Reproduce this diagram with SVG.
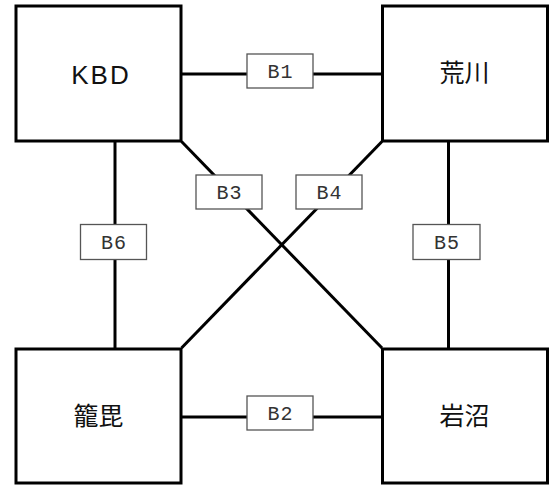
<svg xmlns="http://www.w3.org/2000/svg" width="550" height="487" viewBox="0 0 550 487">
<style>
.node rect{fill:#fff;stroke:#000;stroke-width:3}
.node text{font-family:"Liberation Sans","Noto Sans CJK JP",sans-serif;font-size:26px;fill:#111;text-anchor:middle}
.node text.cjk{font-family:"Noto Sans CJK JP",sans-serif;font-size:25px}
.edges line{stroke:#000;stroke-width:3}
.lbl rect{fill:#fff;stroke:#555;stroke-width:1.3}
.lbl text{font-family:"Liberation Mono","Courier New",monospace;font-size:20px;fill:#333;text-anchor:middle;letter-spacing:1px}
</style>
<rect width="550" height="487" fill="#fff"/>
<g id="connectors" class="edges">
<line x1="182" y1="74" x2="381" y2="74"/>
<line x1="182" y1="417" x2="381" y2="417"/>
<line x1="115" y1="142" x2="115" y2="348"/>
<line x1="448.5" y1="142" x2="448.5" y2="348"/>
<line x1="181.5" y1="141.5" x2="382" y2="348"/>
<line x1="382" y1="141.5" x2="181.5" y2="348"/>
<g class="lbl" id="B1"><rect x="247" y="54" width="66" height="34"/><text x="280.5" y="78">B1</text></g>
<g class="lbl" id="B2"><rect x="247" y="396" width="66" height="34"/><text x="280.5" y="420">B2</text></g>
<g class="lbl" id="B3"><rect x="196" y="175" width="66" height="34"/><text x="229.5" y="199">B3</text></g>
<g class="lbl" id="B4"><rect x="296" y="175" width="66" height="34"/><text x="329.5" y="199">B4</text></g>
<g class="lbl" id="B5"><rect x="413" y="224.5" width="67" height="35"/><text x="447" y="249">B5</text></g>
<g class="lbl" id="B6"><rect x="80.5" y="224.5" width="66" height="35"/><text x="114" y="249">B6</text></g>
</g>
<g id="node-kbd" class="node"><rect x="16" y="6" width="165" height="135"/><text x="101" y="83.5" letter-spacing="2">KBD</text></g>
<g id="node-arakawa" class="node"><rect x="382.5" y="6" width="165" height="135"/><text class="cjk" x="464.5" y="82">荒川</text></g>
<g id="node-kagobi" class="node"><rect x="16" y="349" width="165" height="134"/><text class="cjk" x="98.5" y="425">籠毘</text></g>
<g id="node-iwanuma" class="node"><rect x="382.5" y="349" width="165" height="134"/><text class="cjk" x="464.5" y="425">岩沼</text></g>
</svg>
